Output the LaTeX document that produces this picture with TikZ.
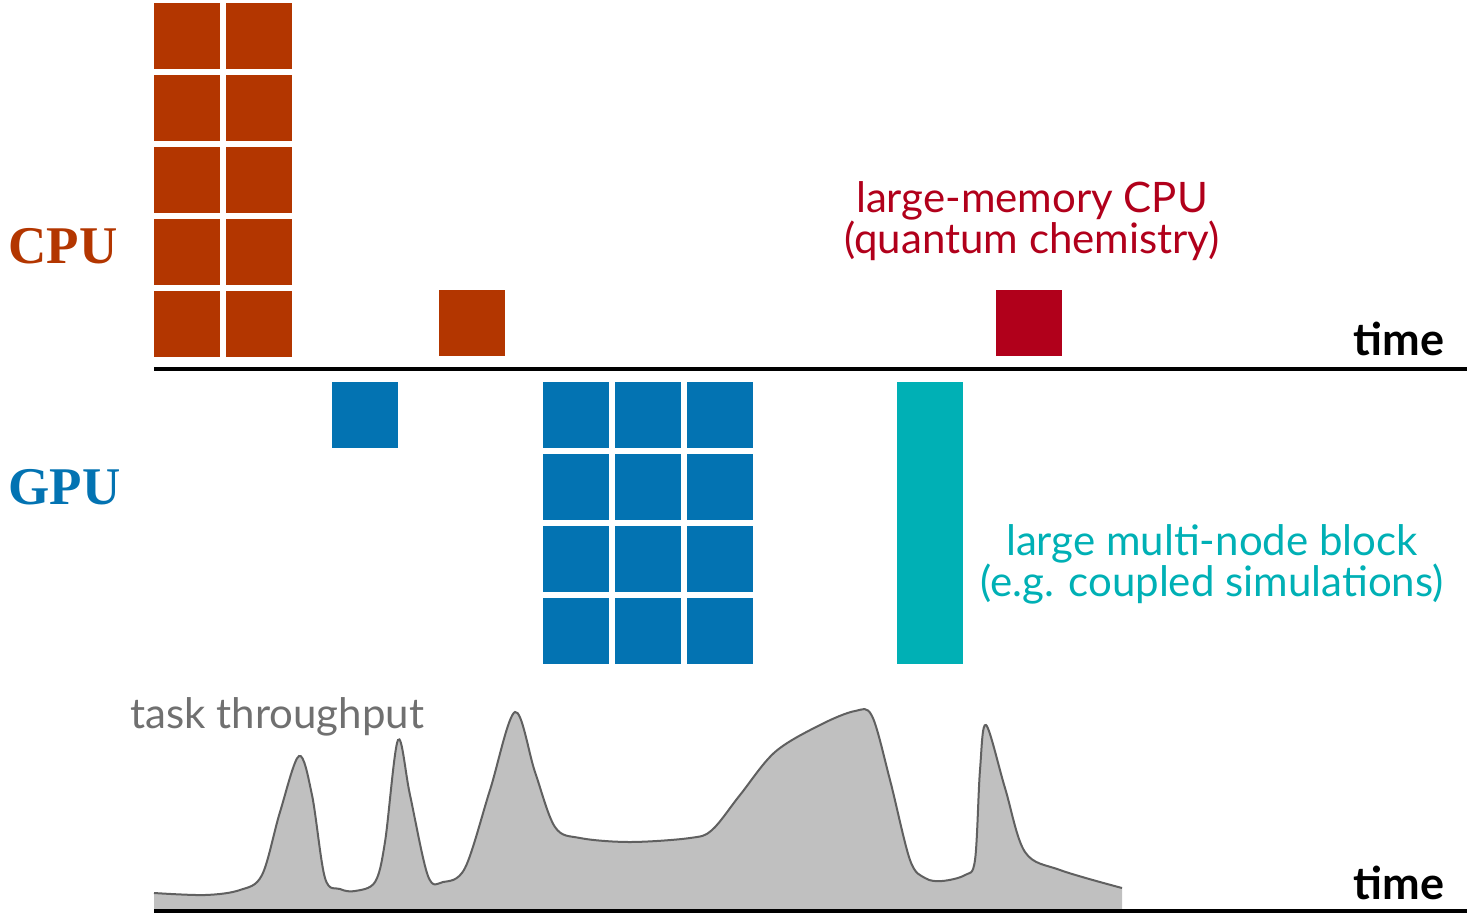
\documentclass[tikz,border=0pt]{standalone}
\usepackage{fontspec}
\setmainfont{Liberation Serif}
\setsansfont{Lato}
\usepackage{xcolor}
\usepackage{tikz}
\usetikzlibrary{positioning,calc}

\definecolor{cpuorange}{RGB}{179,54,0}
\definecolor{gpublue}{RGB}{3,115,178}
\definecolor{memred}{RGB}{177,0,27}
\definecolor{blockteal}{RGB}{0,176,181}
\definecolor{tputfill}{RGB}{192,192,192}
\definecolor{tputline}{RGB}{96,96,96}
\definecolor{tputtext}{RGB}{112,112,112}

\begin{document}
\begin{tikzpicture}[
    x=0.5pt, y=-0.5pt,
    core/.style={rectangle, inner sep=0pt, minimum size=33pt, anchor=north west},
    cpucore/.style={core, fill=cpuorange},
    gpucore/.style={core, fill=gpublue},
    axis/.style={line width=2pt, color=black},
    kind/.style={font=\bfseries\fontsize{26.5}{30}\selectfont, inner sep=0pt, anchor=base west},
    timelabel/.style={font=\sffamily\bfseries\fontsize{22.5}{24}\selectfont, inner sep=0pt, anchor=base east},
    note/.style={font=\sffamily\fontsize{21}{20.5}\selectfont, align=center}
]
    \useasboundingbox (0,0) rectangle (1467,916);

    % CPU lane
    \foreach \i in {0,1}
        \foreach \j in {0,...,4}
            \node[cpucore] (cpu-\i-\j) at ({154+72*\i},{3+72*\j}) {};
    \node[cpucore] (cpu-single) at (439,290) {};
    \node[core, fill=memred] (cpu-bigmem) at (996,290) {};
    \node[kind, text=cpuorange] (cpu-label) at (8,263) {CPU};
    \node[note, text=memred] (bigmem-note) at (1032,221) {large-memory CPU\\(quantum chemistry)};
    \coordinate (cpuaxis-start) at (154,369);
    \coordinate (cpuaxis-end) at (1467,369);
    \draw[axis] (cpuaxis-start) -- (cpuaxis-end);
    \node[timelabel] (cpu-time) at (1445,355) {time};

    % GPU lane
    \node[gpucore] (gpu-single) at (332,382) {};
    \foreach \i in {0,1,2}
        \foreach \j in {0,...,3}
            \node[gpucore] (gpu-\i-\j) at ({543+72*\i},{382+72*\j}) {};
    \node[core, fill=blockteal, minimum height=141pt] (gpu-block) at (897,382) {};
    \node[kind, text=gpublue] (gpu-label) at (8,504) {GPU};
    \node[note, text=blockteal] (block-note) at (1212,564) {large multi-node block\\(e.g. coupled simulations)};

    % throughput
    \fill[tputfill] (154,911) -- plot[smooth, tension=0.55] coordinates {
        (154,893) (205,895) (240,890) (262,875) (280,812) (299,756) (312,795) (325,878)
        (340,889) (355,891) (375,882) (385,842) (398,740) (410,795) (428,876) (443,882)
        (465,868) (490,790) (515,712) (535,772) (555,827) (580,838) (630,842) (690,838)
        (712,830) (740,795) (775,752) (820,725) (855,711) (872,716) (890,780) (910,860)
        (925,878) (942,881) (965,875) (975,860) (980,770) (986,725) (1005,788)
        (1025,852) (1060,870) (1122,888)} -- (1122,911) -- cycle;
    \draw[tputline, line width=1pt] plot[smooth, tension=0.55] coordinates {
        (154,893) (205,895) (240,890) (262,875) (280,812) (299,756) (312,795) (325,878)
        (340,889) (355,891) (375,882) (385,842) (398,740) (410,795) (428,876) (443,882)
        (465,868) (490,790) (515,712) (535,772) (555,827) (580,838) (630,842) (690,838)
        (712,830) (740,795) (775,752) (820,725) (855,711) (872,716) (890,780) (910,860)
        (925,878) (942,881) (965,875) (975,860) (980,770) (986,725) (1005,788)
        (1025,852) (1060,870) (1122,888)};
    \node[font=\sffamily\fontsize{21}{22}\selectfont, text=tputtext, inner sep=0pt, anchor=base west] (tput-label) at (130,728) {task throughput};
    \coordinate (tputaxis-start) at (154,911);
    \coordinate (tputaxis-end) at (1467,911);
    \draw[axis] (tputaxis-start) -- (tputaxis-end);
    \node[timelabel] (tput-time) at (1445,899) {time};
\end{tikzpicture}
\end{document}
